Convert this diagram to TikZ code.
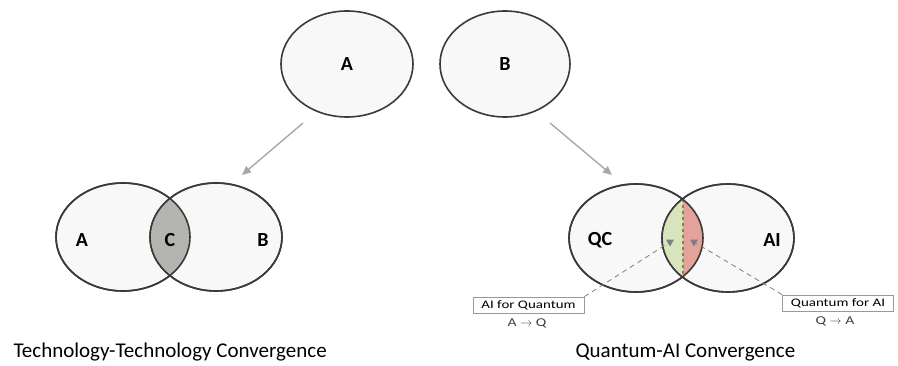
\documentclass[tikz,border=0pt]{standalone}
\usepackage{fontspec}
\setmainfont{Carlito}
\newfontfamily\tagfont[FakeStretch=1.3]{Carlito}
\usetikzlibrary{shapes.geometric,arrows.meta}

\definecolor{setfill}{HTML}{F8F8F8}
\definecolor{setline}{HTML}{3A3A3A}
\definecolor{lensgray}{HTML}{B4B4B1}
\definecolor{lensgreen}{HTML}{D8E4BC}
\definecolor{lensred}{HTML}{E3A39C}
\definecolor{splitline}{HTML}{9C7A3C}
\definecolor{flowgray}{HTML}{A8A8A8}

\tikzset{
  setshape/.style={ellipse, draw=setline, line width=1.6pt, fill=setfill,
    inner sep=0pt, font=\bfseries\fontsize{20}{23}\selectfont},
  setlabel/.style={font=\bfseries\fontsize{20}{23}\selectfont, text=black},
  flow/.style={draw=flowgray, line width=1.4pt, -{Triangle[length=9pt,width=8pt]}},
  callout/.style={draw=gray, dashed, line width=0.8pt, dash pattern=on 5pt off 4pt},
  tipmark/.style={regular polygon, regular polygon sides=3, shape border rotate=180,
    fill=gray, inner sep=0pt, minimum size=9pt},
  tagbox/.style={draw=gray!80, line width=0.8pt, fill=white, inner sep=1pt,
    minimum width=111pt, minimum height=16pt, font=\tagfont\fontsize{11.5}{14}\selectfont},
  tagsub/.style={font=\tagfont\fontsize{12}{14}\selectfont, text=black!75},
  caption/.style={font=\fontsize{21}{25}\selectfont, anchor=base west},
}

\begin{document}
\begin{tikzpicture}[x=1pt,y=-1pt]
\useasboundingbox (0,0) rectangle (898,366);

% top pair of separate technologies
\node[setshape, minimum width=132pt, minimum height=106pt] (topA) at (347,64) {A};
\node[setshape, minimum width=130pt, minimum height=106pt] (topB) at (505,64) {B};

% left Venn: generic convergence
\node[setshape, minimum width=134pt, minimum height=108pt] (lA) at (123,237) {};
\node[setshape, minimum width=132pt, minimum height=108pt] (lB) at (216,237) {};
\begin{scope}
  \clip (123,237) ellipse [x radius=67, y radius=54];
  \fill[lensgray] (216,237) ellipse [x radius=66, y radius=54];
\end{scope}
\draw[setline, line width=1.6pt] (123,237) ellipse [x radius=67, y radius=54];
\draw[setline, line width=1.6pt] (216,237) ellipse [x radius=66, y radius=54];
\node[setlabel] (labA) at (82,240) {A};
\node[setlabel] (labC) at (170,240) {C};
\node[setlabel] (labB) at (263,240) {B};

% right Venn: quantum-AI convergence
\node[setshape, minimum width=134pt, minimum height=108pt] (qc) at (636,238) {};
\node[setshape, minimum width=132pt, minimum height=108pt] (ai) at (728,238) {};
\begin{scope}
  \clip (636,238) ellipse [x radius=67, y radius=54];
  \clip (728,238) ellipse [x radius=66, y radius=54];
  \fill[lensgreen] (600,180) rectangle (683,300);
  \fill[lensred] (683,180) rectangle (760,300);
\end{scope}
\coordinate (splitTop) at (683,199);
\coordinate (splitBot) at (683,277);
\draw[splitline, line width=1.4pt, dashed] (splitTop) -- (splitBot);
\draw[setline, line width=1.6pt] (636,238) ellipse [x radius=67, y radius=54];
\draw[setline, line width=1.6pt] (728,238) ellipse [x radius=66, y radius=54];
\node[setlabel] (labQC) at (600,240) {QC};
\node[setlabel] (labAI) at (772,240) {AI};

% arrows from the separate sets to the Venn diagrams
\coordinate (fromA) at (303,123);
\coordinate (toL) at (242,175);
\coordinate (fromB) at (550,123);
\coordinate (toR) at (612,175);
\draw[flow] (fromA) -- (toL);
\draw[flow] (fromB) -- (toR);

% callouts for the two directions
\node[tagbox] (tagL) at (528.5,305) {AI for Quantum};
\node[tagsub] (subL) at (527,323) {A $\rightarrow$ Q};
\node[tagbox] (tagR) at (838,303) {Quantum for AI};
\node[tagsub] (subR) at (835,321) {Q $\rightarrow$ A};
\node[tipmark] (tipL) at (670,242) {};
\node[tipmark] (tipR) at (694,242) {};
\draw[callout] (tagL.north east) -- (tipL);
\draw[callout] (tagR.north west) -- (tipR);

% captions
\node[caption] (capL) at (10,358) {Technology-Technology Convergence};
\node[caption] (capR) at (572,358) {Quantum-AI Convergence};
\end{tikzpicture}
\end{document}
